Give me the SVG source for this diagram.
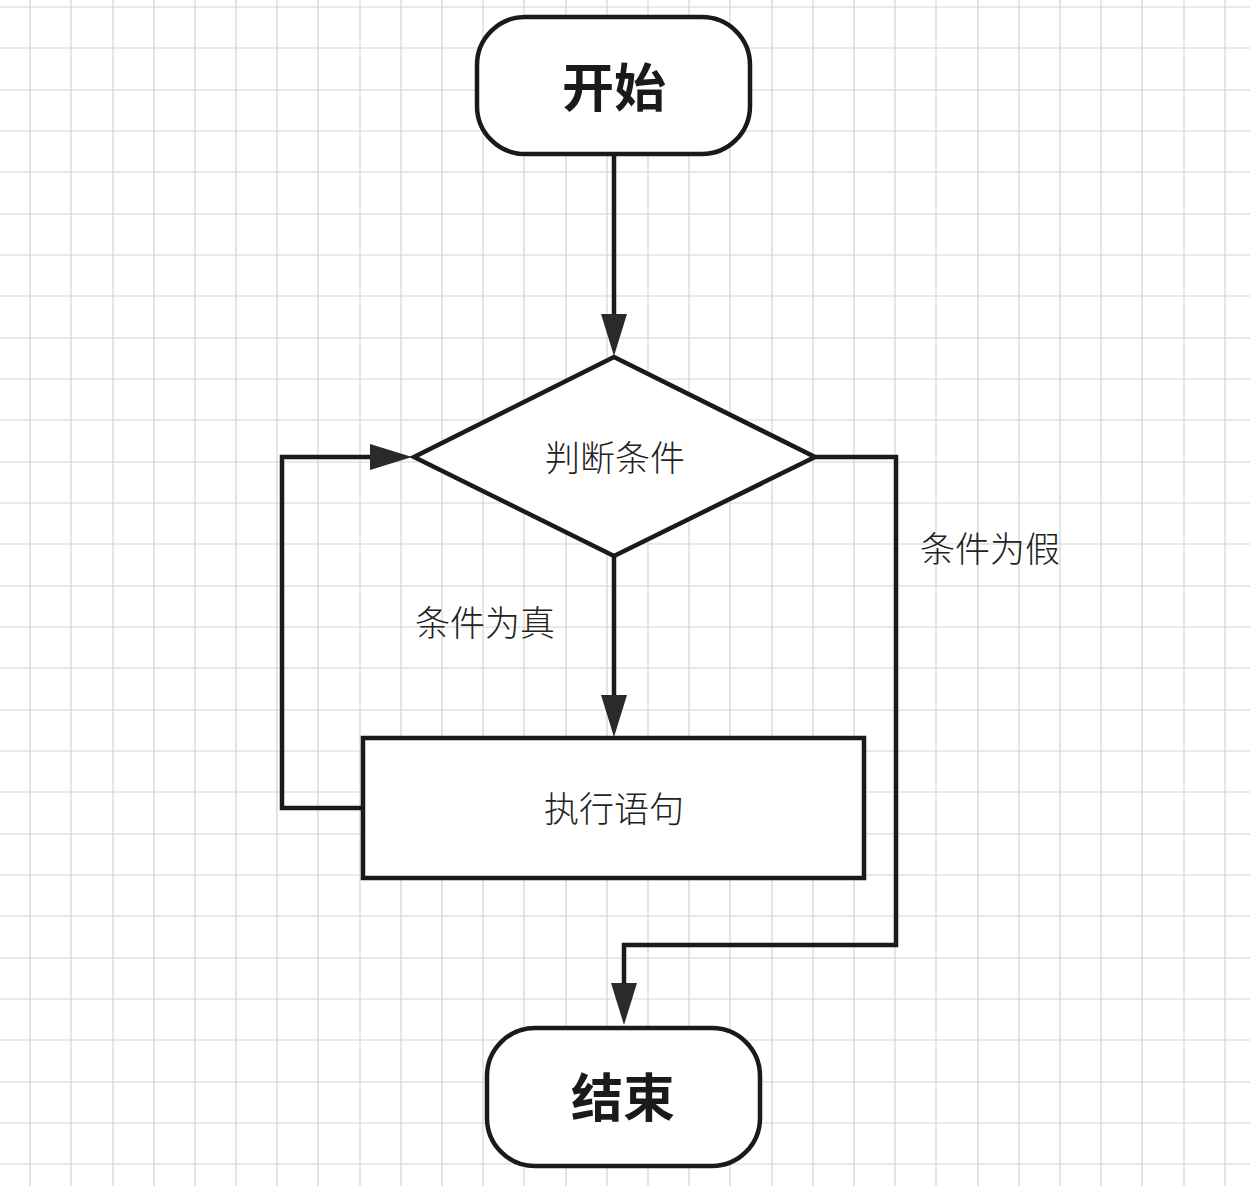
<svg xmlns="http://www.w3.org/2000/svg" width="1250" height="1186" viewBox="0 0 1250 1186">
<style>
.grid line{stroke:#d4d4d4;stroke-width:1.2}
.node{fill:#fff;stroke:#1a1a1a;stroke-width:4.5}
.conn{fill:none;stroke:#1a1a1a;stroke-width:4.5}
.bold{font-family:"Noto Sans CJK SC","Noto Sans CJK TC",sans-serif;font-weight:700;font-size:52px;fill:#1a1a1a;text-anchor:middle;dominant-baseline:central}
.reg{font-family:"Noto Sans CJK SC","Noto Sans CJK TC",sans-serif;font-weight:300;font-size:35px;fill:#222;text-anchor:middle;dominant-baseline:central}
.lbl{font-family:"Noto Sans CJK SC","Noto Sans CJK TC",sans-serif;font-weight:300;font-size:35px;fill:#222;dominant-baseline:central}
</style>
<defs>
<path id="ah" d="M0,0 L-13,-42 L13,-42 Z" fill="#2a2a2a"/>
</defs>
<rect width="1250" height="1186" fill="#fff"/>
<g class="grid">
<line x1="30" y1="0" x2="30" y2="1186"/><line x1="71" y1="0" x2="71" y2="1186"/><line x1="113" y1="0" x2="113" y2="1186"/><line x1="154" y1="0" x2="154" y2="1186"/><line x1="195" y1="0" x2="195" y2="1186"/><line x1="236" y1="0" x2="236" y2="1186"/><line x1="277" y1="0" x2="277" y2="1186"/><line x1="318" y1="0" x2="318" y2="1186"/><line x1="360" y1="0" x2="360" y2="1186"/><line x1="401" y1="0" x2="401" y2="1186"/><line x1="442" y1="0" x2="442" y2="1186"/><line x1="483" y1="0" x2="483" y2="1186"/><line x1="524" y1="0" x2="524" y2="1186"/><line x1="566" y1="0" x2="566" y2="1186"/><line x1="607" y1="0" x2="607" y2="1186"/><line x1="648" y1="0" x2="648" y2="1186"/><line x1="689" y1="0" x2="689" y2="1186"/><line x1="730" y1="0" x2="730" y2="1186"/><line x1="772" y1="0" x2="772" y2="1186"/><line x1="813" y1="0" x2="813" y2="1186"/><line x1="854" y1="0" x2="854" y2="1186"/><line x1="895" y1="0" x2="895" y2="1186"/><line x1="936" y1="0" x2="936" y2="1186"/><line x1="978" y1="0" x2="978" y2="1186"/><line x1="1019" y1="0" x2="1019" y2="1186"/><line x1="1060" y1="0" x2="1060" y2="1186"/><line x1="1101" y1="0" x2="1101" y2="1186"/><line x1="1142" y1="0" x2="1142" y2="1186"/><line x1="1184" y1="0" x2="1184" y2="1186"/><line x1="1225" y1="0" x2="1225" y2="1186"/>
<line x1="0" y1="7" x2="1250" y2="7"/><line x1="0" y1="48" x2="1250" y2="48"/><line x1="0" y1="90" x2="1250" y2="90"/><line x1="0" y1="131" x2="1250" y2="131"/><line x1="0" y1="172" x2="1250" y2="172"/><line x1="0" y1="214" x2="1250" y2="214"/><line x1="0" y1="255" x2="1250" y2="255"/><line x1="0" y1="296" x2="1250" y2="296"/><line x1="0" y1="338" x2="1250" y2="338"/><line x1="0" y1="379" x2="1250" y2="379"/><line x1="0" y1="420" x2="1250" y2="420"/><line x1="0" y1="462" x2="1250" y2="462"/><line x1="0" y1="503" x2="1250" y2="503"/><line x1="0" y1="544" x2="1250" y2="544"/><line x1="0" y1="586" x2="1250" y2="586"/><line x1="0" y1="627" x2="1250" y2="627"/><line x1="0" y1="668" x2="1250" y2="668"/><line x1="0" y1="710" x2="1250" y2="710"/><line x1="0" y1="751" x2="1250" y2="751"/><line x1="0" y1="792" x2="1250" y2="792"/><line x1="0" y1="834" x2="1250" y2="834"/><line x1="0" y1="875" x2="1250" y2="875"/><line x1="0" y1="916" x2="1250" y2="916"/><line x1="0" y1="958" x2="1250" y2="958"/><line x1="0" y1="999" x2="1250" y2="999"/><line x1="0" y1="1040" x2="1250" y2="1040"/><line x1="0" y1="1082" x2="1250" y2="1082"/><line x1="0" y1="1123" x2="1250" y2="1123"/><line x1="0" y1="1164" x2="1250" y2="1164"/>
</g>
<g id="connectors">
<path class="conn" d="M614,155 V318"/>
<use href="#ah" x="614" y="356"/>
<path class="conn" d="M614,556 V700"/>
<use href="#ah" x="614" y="737"/>
<path class="conn" d="M363,808 H282 V457 H372"/>
<use href="#ah" transform="translate(412,457) rotate(-90)"/>
<path class="conn" d="M815,457 H896 V945 H624 V985"/>
<use href="#ah" x="624" y="1025"/>
<text class="lbl" x="415" y="620">条件为真</text>
<text class="lbl" x="920" y="546">条件为假</text>
</g>
<g id="start">
<rect class="node" x="477" y="17" width="273" height="137" rx="48" ry="48"/>
<text class="bold" x="614" y="84">开始</text>
</g>
<g id="decision">
<polygon class="node" points="614,357 815,457 614,556 414,457"/>
<text class="reg" x="615" y="455">判断条件</text>
</g>
<g id="process">
<rect class="node" x="363" y="738" width="501" height="140"/>
<text class="reg" x="614" y="806">执行语句</text>
</g>
<g id="end">
<rect class="node" x="487" y="1028" width="273" height="138" rx="48" ry="48"/>
<text class="bold" x="623" y="1094">结束</text>
</g>
</svg>
